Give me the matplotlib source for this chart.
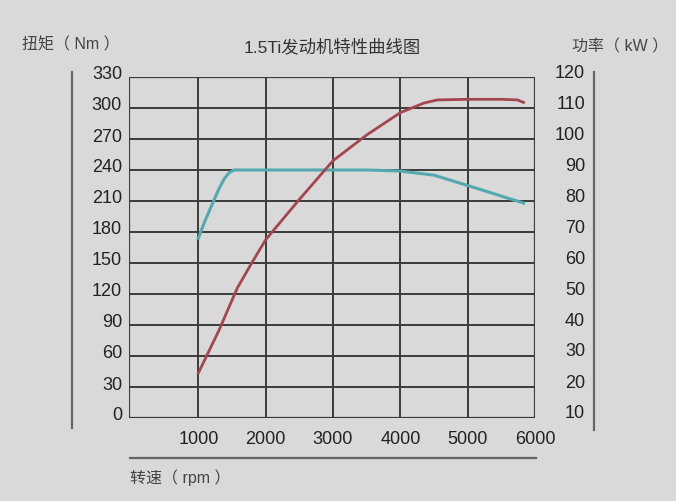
import matplotlib.pyplot as plt
from matplotlib.patches import Rectangle
from matplotlib.lines import Line2D
from matplotlib.transforms import ScaledTranslation

plt.rcParams['font.family'] = ['Liberation Sans', 'Noto Sans CJK SC']

# torque curve (Nm)
torque_rpm = [1000, 1100, 1200, 1300, 1380, 1450, 1530, 2000, 3000, 3500, 4000, 4500, 5000, 5440, 5830]
torque_nm = [174, 191, 206, 221, 231, 237, 240, 240, 240, 240, 239, 235, 225, 216, 208]

# power curve (kW)
power_rpm = [1000, 1300, 1580, 1820, 2000, 2500, 3000, 3500, 4000, 4350, 4550, 5000, 5500, 5740, 5830]
power_kw = [24.5, 38, 52, 61, 67.5, 80.5, 93, 101.3, 108.5, 111.6, 112.6, 112.8, 112.8, 112.6, 111.8]

x_ticks = [1000, 2000, 3000, 4000, 5000, 6000]
torque_ticks = list(range(0, 331, 30))
power_ticks = list(range(10, 121, 10))

bg = '#d9d9d9'
grid_c = '#3a3a3a'
axis_c = '#666666'
teal = '#55a8b0'
red = '#a3464f'

fig = plt.figure(figsize=(6.76, 5.01), dpi=100, facecolor=bg)
ax = fig.add_axes([129/676, 1 - 418/501, (535 - 129)/676, (418 - 77)/501])
ax.set_facecolor(bg)
ax.set_xlim(-30, 6000)
ax.set_ylim(0, 330)
ax.set_xticks(x_ticks)
ax.set_yticks(torque_ticks)
ax.grid(True, color=grid_c, linewidth=1.4)
ax.set_axisbelow(True)
ax.add_patch(Rectangle((0, 0), 1, 1, transform=ax.transAxes, fill=False,
                       edgecolor=grid_c, linewidth=1.6, zorder=1))

ax2 = ax.twinx()
ax2.set_ylim(10, 120)
ax2.set_yticks(power_ticks)

ax.plot(torque_rpm, torque_nm, color=teal, linewidth=2.2, zorder=3)
ax2.plot(power_rpm, power_kw, color=red, linewidth=2.0, zorder=3)

for a in (ax, ax2):
    for s in a.spines.values():
        s.set_visible(False)

# detached axis lines, as in the original picture
fig.add_artist(Line2D([72/676, 72/676], [1 - 428/501, 1 - 72/501], color=axis_c, linewidth=1.6))
fig.add_artist(Line2D([594/676, 594/676], [1 - 430/501, 1 - 72/501], color=axis_c, linewidth=1.6))
fig.add_artist(Line2D([130/676, 536/676], [1 - 458/501, 1 - 458/501], color=axis_c, linewidth=1.6))

ax.tick_params(axis='both', length=0, labelsize=13, colors='#222222')
ax.tick_params(axis='y', pad=5)
ax.tick_params(axis='x', pad=9)
ax2.tick_params(axis='y', length=0, labelsize=13, colors='#222222', pad=36)
for lbl in ax2.get_yticklabels():
    lbl.set_ha('right')

up_l = ScaledTranslation(0, 0.04, fig.dpi_scale_trans)
up_r = ScaledTranslation(0, 0.06, fig.dpi_scale_trans)
for lbl in ax.get_yticklabels():
    lbl.set_transform(lbl.get_transform() + up_l)
for lbl in ax2.get_yticklabels():
    lbl.set_transform(lbl.get_transform() + up_r)

fig.text(332/676, 1 - 47/501, '1.5Ti发动机特性曲线图', ha='center', va='center',
         fontsize=12.5, color='#333333')
fig.text(22/676, 1 - 45/501, '扭矩（ Nm ）', ha='left', va='center', fontsize=11.5, color='#444444')
fig.text(668/676, 1 - 47/501, '功率（ kW ）', ha='right', va='center', fontsize=11.5, color='#444444')
fig.text(130/676, 1 - 478/501, '转速（ rpm ）', ha='left', va='center', fontsize=11.5, color='#444444')

fig.savefig('out.png', dpi=100, facecolor=bg)
